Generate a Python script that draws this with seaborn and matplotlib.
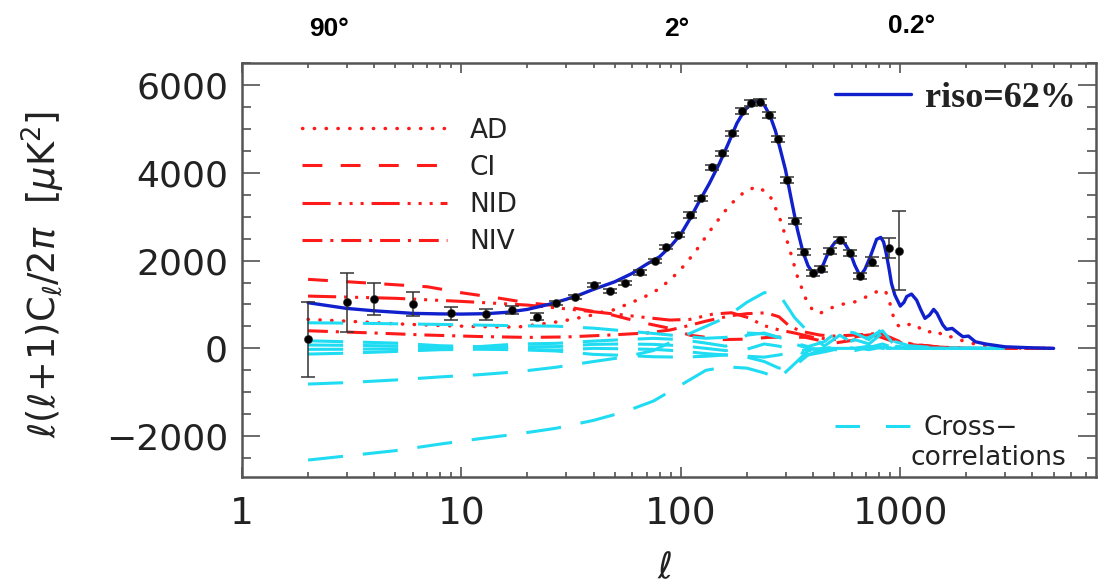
import numpy as np
import pandas as pd
import matplotlib
matplotlib.use("Agg")
import matplotlib.pyplot as plt
from matplotlib import font_manager
from matplotlib.lines import Line2D
from matplotlib.ticker import FixedLocator, LogLocator, MultipleLocator, NullFormatter
import seaborn as sns

# ---------------------------------------------------------------- data
# total temperature spectrum with 62% isocurvature (blue)
ell_tot = [2, 3, 4, 6, 8, 10, 13, 16, 20, 25, 30, 35, 40, 50, 60, 70, 80, 90, 100,
           110, 120, 135, 150, 165, 180, 195, 210, 225, 240, 255, 270, 285, 300, 320,
           340, 360, 380, 400, 420, 445, 475, 505, 530, 560, 590, 620, 656, 690, 730,
           780, 815, 840, 863, 890, 912, 945, 1000, 1040, 1070, 1125, 1187, 1240, 1296,
           1360, 1420, 1470, 1510, 1560, 1623, 1725, 1840, 1930, 2045, 2200, 2460, 3000,
           3900, 5000]
cl_tot = [1040, 910, 856, 797, 785, 781, 790, 820, 888, 1002, 1116, 1230, 1344, 1517,
          1708, 1920, 2087, 2330, 2600, 2950, 3303, 3760, 4214, 4680, 5125, 5420, 5580,
          5640, 5540, 5300, 4950, 4500, 4062, 3350, 2700, 2200, 1880, 1722, 1740, 1900,
          2239, 2420, 2476, 2380, 2190, 1900, 1647, 1800, 2087, 2483, 2528, 2420, 2164,
          1800, 1480, 1214, 963, 1050, 1180, 1237, 1100, 880, 683, 760, 888, 800, 683,
          540, 433, 455, 342, 265, 280, 150, 98, 36, 14, 0]

# adiabatic (AD) component
ell_ad = [2, 3, 5, 8, 12, 18, 22, 29, 33, 37, 43, 49, 60, 70, 78, 89, 100, 115, 140,
          167, 199, 225, 254, 281, 311, 340, 373, 400, 430, 474, 530, 589, 650, 700,
          760, 818, 860, 890, 920, 955, 1000, 1060, 1135, 1200, 1280, 1350, 1420, 1500,
          1600, 1747, 1850, 2000, 2300, 2700, 3500, 5000]
cl_ad = [660, 620, 560, 520, 495, 485, 540, 622, 683, 720, 820, 872, 1050, 1200, 1330,
         1550, 1800, 2164, 2770, 3264, 3606, 3681, 3492, 2998, 2314, 1631, 1100, 860,
         797, 900, 1000, 1025, 1090, 1175, 1260, 1344, 1280, 1100, 800, 569, 480, 520,
         569, 500, 380, 370, 417, 360, 260, 264, 200, 150, 70, 25, 5, 0]

# CDM isocurvature (CI) component
ell_ci = [2, 4, 7, 10, 15, 20, 30, 47, 65, 89, 110, 155, 200, 250, 300, 370, 430, 500,
          600, 700, 800, 900, 1000, 1200, 1500, 2000, 3000, 5000]
cl_ci = [1572, 1480, 1403, 1267, 1140, 1039, 948, 781, 600, 456, 300, 200, 210, 250,
         260, 250, 180, 120, 180, 250, 270, 180, 120, 70, 25, 0, 0, 0]

# neutrino isocurvature density (NID) component
ell_nid = [2, 5, 10, 20, 30, 47, 70, 89, 110, 140, 170, 206, 235, 280, 330, 400, 500,
           600, 700, 820, 900, 1000, 1200, 1500, 2000, 3000, 5000]
cl_nid = [1191, 1140, 1070, 986, 900, 797, 700, 645, 660, 781, 811, 690, 530, 420, 350,
          250, 200, 250, 300, 330, 200, 130, 80, 30, 0, 0, 0]

# neutrino isocurvature velocity (NIV) component
ell_niv = [2, 4, 7, 12, 20, 30, 47, 70, 89, 105, 130, 167, 200, 245, 280, 315, 360, 430,
           500, 600, 700, 803, 900, 1000, 1200, 1500, 2000, 3000, 5000]
cl_niv = [401, 350, 303, 270, 250, 260, 303, 350, 417, 500, 620, 740, 790, 810, 720,
          492, 380, 303, 280, 300, 320, 342, 250, 150, 80, 30, 0, 0, 0]

# cross-correlation terms
ell_x = [2, 3, 5, 8, 12, 18, 27, 40, 55, 75, 100, 130, 160, 200, 240, 280, 330, 380,
         450, 530, 620, 720, 830, 950, 1100, 1400, 2000, 3000]
cross_1 = [583, 575, 560, 545, 530, 515, 505, 460, 400, 340, 280, 230, 250, 350, 330,
           250, 120, 40, 150, 420, 350, 200, 450, 150, 60, 20, 0, 0]
cross_2 = [173, 150, 120, 60, 40, 100, 114, 166, 200, 228, 200, 120, 50, 300, 350, 250,
           100, 0, -30, 50, 200, 100, 350, 50, 20, 0, 0, 0]
cross_3 = [76, 70, 55, 35, 25, 36, 40, 91, 100, 91, 60, 0, -50, -20, 100, 50, -50, -150,
           -80, 0, -50, 20, 100, 0, 0, 0, 0, 0]
cross_4 = [-23, -20, -10, 0, 0, -20, -39, 0, -10, -23, -60, -120, -150, -180, -200, -150,
           -80, -30, 0, -40, 20, -30, 30, 0, 0, 0, 0, 0]
cross_5 = [-130, -110, -70, -30, -20, -30, -60, -137, -160, -191, -200, -180, -150, -200,
           -300, -450, -400, -150, 0, 50, 0, 50, 0, 0, 0, 0, 0, 0]
cross_6 = [-813, -780, -720, -650, -600, -533, -430, -300, -200, -50, 250, 500, 700,
           1050, 1270, 1240, 700, 380, 50, 300, 100, 250, 400, 50, 20, 0, 0, 0]
cross_7 = [-2544, -2450, -2330, -2180, -2060, -1950, -1820, -1640, -1450, -1200, -836,
           -500, -420, -450, -560, -683, -350, -60, 0, 0, 0, 0, 0, 0, 0, 0, 0, 0]
cross_terms = [cross_1, cross_2, cross_3, cross_4, cross_5, cross_6, cross_7]

# band powers with error bars
ell_pts = [2, 3, 4, 6, 9, 13, 17, 22, 27, 33, 40, 47.5, 55.6, 65, 76, 86, 97, 110, 124,
           139, 154, 171, 190, 208, 229, 252, 277, 305, 332, 365, 400, 437, 477, 530,
           589, 656, 747, 889, 984]
cl_pts = [205, 1047, 1123, 1002, 797, 774, 872, 720, 1039, 1170, 1442, 1312, 1494, 1731,
          1989, 2314, 2581, 3036, 3417, 4123, 4442, 4897, 5412, 5581, 5617, 5314, 4761,
          3834, 2907, 2200, 1708, 1800, 2223, 2467, 2178, 1647, 1973, 2278, 2223]
err_pts = [855, 672, 356, 273, 144, 120, 90, 80, 50, 50, 50, 50, 50, 50, 50, 50, 50, 60,
           60, 60, 60, 60, 70, 70, 70, 70, 70, 70, 70, 70, 70, 70, 70, 70, 70, 70, 100,
           230, 900]

component_labels = ["AD", "CI", "NID", "NIV"]
angle_labels = ["90°", "2°", "0.2°"]
xtick_values = [1, 10, 100, 1000]
xtick_labels = ["1", "10", "100", "1000"]
ytick_values = [-2000, 0, 2000, 4000, 6000]

# ---------------------------------------------------------------- style
sns.set_theme(style="ticks")
plt.rcParams["font.family"] = ["DejaVu Sans"]
plt.rcParams["mathtext.fontset"] = "dejavusans"

installed = {f.name for f in font_manager.fontManager.ttflist}
narrow = "Liberation Sans Narrow" if "Liberation Sans Narrow" in installed else "DejaVu Sans"
arial = "Liberation Sans" if "Liberation Sans" in installed else "DejaVu Sans"
serif = "Liberation Serif" if "Liberation Serif" in installed else "DejaVu Serif"

RED = "#ff1a1a"
CYAN = "#1fdcf2"
BLUE = "#1020cc"
INK = "#222222"

ls_ad = (0, (0.1, 3.3))
ls_ci = (0, (6.5, 6.0))
ls_nid = (0, (9.2, 2.6, 1, 2.6, 1, 2.6, 1, 2.6))
ls_niv = (0, (6.5, 2.6, 1, 2.6))
ls_cross = (0, (11.5, 6.5))

fig = plt.figure(figsize=(11, 5.88), dpi=100)
ax = fig.add_axes([242 / 1100, 1 - 477 / 588, (1096 - 242) / 1100, (477 - 63) / 588])
ax.set_xscale("log")

# ---------------------------------------------------------------- curves
red_curves = [(ell_ad, cl_ad, ls_ad, 2.5, "round"),
              (ell_ci, cl_ci, ls_ci, 2.2, "butt"),
              (ell_nid, cl_nid, ls_nid, 2.2, "butt"),
              (ell_niv, cl_niv, ls_niv, 2.2, "butt")]
for ell, cl, ls, lw, cap in red_curves:
    sns.lineplot(x=ell, y=cl, ax=ax, color=RED, linestyle=ls, lw=lw,
                 dash_capstyle=cap, estimator=None, sort=False, zorder=2)

for term in cross_terms:
    sns.lineplot(x=ell_x, y=term, ax=ax, color=CYAN, linestyle=ls_cross, lw=2.2,
                 estimator=None, sort=False, zorder=3)

sns.lineplot(x=ell_tot, y=cl_tot, ax=ax, color=BLUE, lw=2.4, estimator=None,
             sort=False, zorder=4)

ax.errorbar(ell_pts, cl_pts, yerr=err_pts, fmt="none", ecolor="#333333",
            elinewidth=1.1, capsize=5, capthick=1.1, zorder=5)
sns.scatterplot(x=ell_pts, y=cl_pts, ax=ax, color="black", s=34,
                edgecolor="#333333", linewidth=0.4, zorder=6)

# ---------------------------------------------------------------- axes
ax.set_xlim(1, 7800)
ax.set_ylim(-2930, 6500)
ax.xaxis.set_major_locator(FixedLocator(xtick_values))
ax.xaxis.set_minor_locator(LogLocator(base=10, subs=np.arange(2, 10)))
ax.xaxis.set_minor_formatter(NullFormatter())
ax.set_xticklabels(xtick_labels)
ax.yaxis.set_major_locator(FixedLocator(ytick_values))
ax.yaxis.set_minor_locator(MultipleLocator(500))
ax.set_yticklabels(["\u22122000", "0", "2000", "4000", "6000"])

for sp in ax.spines.values():
    sp.set_color("#555555")
    sp.set_linewidth(1.8)

ax.tick_params(which="both", direction="in", top=True, right=True, color="#444444",
               width=1.1)
ax.tick_params(axis="x", which="major", length=7, pad=14, labelsize=27,
               labelcolor=INK)
ax.tick_params(axis="x", which="minor", length=3.5)
ax.tick_params(axis="y", which="major", length=13, pad=10, labelsize=26,
               labelcolor=INK)
ax.tick_params(axis="y", which="minor", length=6.5)
for lab in ax.get_xticklabels():
    lab.set_family(narrow)

ax.set_xlabel(r"$\ell$", fontsize=26, color=INK, va="center")
ax.xaxis.set_label_coords(0.495, -0.22)
ax.set_ylabel(r"$\ell(\ell\!+\!1)\mathrm{C}_\ell/2\pi\ \ [\mu\mathrm{K}^2]$",
              fontsize=26.5, color=INK)
ax.yaxis.set_label_coords(-0.205, 0.49)

# angular scale labels above the frame
for txt, xpix, ypix in zip(angle_labels, [329, 677, 912], [29, 29, 26]):
    fig.text(xpix / 1100, 1 - ypix / 588, txt, ha="center", va="center",
             fontsize=19, fontweight="bold", family=arial, color="black")

# ---------------------------------------------------------------- legends
comp_handles = [Line2D([], [], color=RED, lw=2.5, linestyle=ls_ad, dash_capstyle="round"),
                Line2D([], [], color=RED, lw=2.2, linestyle=ls_ci),
                Line2D([], [], color=RED, lw=2.2, linestyle=ls_nid),
                Line2D([], [], color=RED, lw=2.2, linestyle=ls_niv)]
leg1 = ax.legend(comp_handles, component_labels, loc="upper left",
                 bbox_to_anchor=(0.070, 0.868), frameon=False, fontsize=19,
                 handlelength=5.5, handletextpad=0.85, labelspacing=0.42,
                 borderaxespad=0, borderpad=0)
for t in leg1.get_texts():
    t.set_color(INK)
ax.add_artist(leg1)

leg2 = ax.legend([Line2D([], [], color=BLUE, lw=2.4)], ["riso=62%"],
                 loc="center left", bbox_to_anchor=(0.694, 0.915), frameon=False,
                 prop={"family": serif, "size": 26, "weight": "bold"},
                 handlelength=2.1, handletextpad=0.4, borderaxespad=0, borderpad=0)
for t in leg2.get_texts():
    t.set_color(INK)
ax.add_artist(leg2)

leg3 = ax.legend([Line2D([], [], color=CYAN, lw=2.2, linestyle=(0, (8, 8.5)))],
                 ["Cross\u2212"], loc="center left", bbox_to_anchor=(0.694, 0.118),
                 frameon=False, fontsize=19, handlelength=2.85, handletextpad=0.5,
                 borderaxespad=0, borderpad=0)
for t in leg3.get_texts():
    t.set_color(INK)
ax.text((910 - 242) / 854, (477 - 458) / 414, "correlations", transform=ax.transAxes,
        ha="left", va="center", fontsize=19, color=INK, clip_on=False)

fig.savefig("out.png", dpi=100, facecolor="white")
